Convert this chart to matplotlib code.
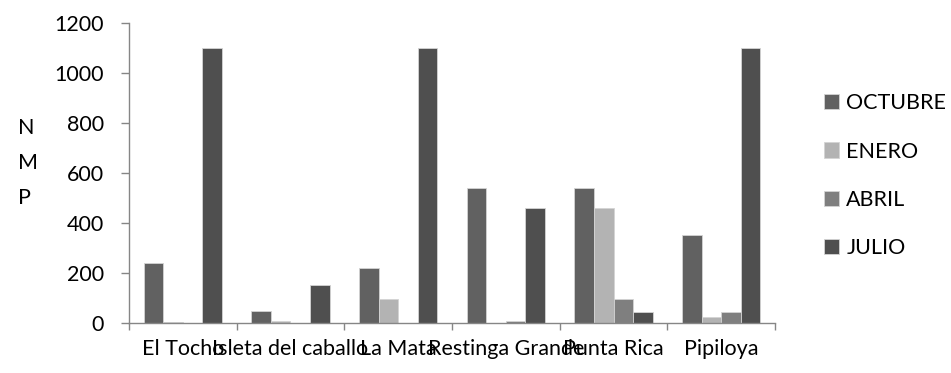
import matplotlib
matplotlib.use("Agg")
import matplotlib.pyplot as plt
import numpy as np

sitios = ["El Tocho", "Isleta del caballo", "La Mata", "Restinga Grande", "Punta Rica", "Pipiloya"]
meses = ["OCTUBRE", "ENERO", "ABRIL", "JULIO"]
octubre = [240, 45, 220, 540, 540, 350]
enero = [2, 7, 93, 0, 460, 23]
abril = [0, 0, 0, 7, 93, 43]
julio = [1100, 150, 1100, 460, 43, 1100]
colores = ["#616161", "#b3b3b3", "#7f7f7f", "#4f4f4f"]

plt.rcParams['font.family'] = ['Lato', 'DejaVu Sans']
fs = 15.5

fig = plt.figure(figsize=(9.51, 3.73), dpi=100)
ax = fig.add_axes([0.1356, 0.1349, 0.815 - 0.1356, 0.939 - 0.1349])

x = np.arange(len(sitios))
w = 1 / 5.5
series = [octubre, enero, abril, julio]
for j, (vals, nombre, c) in enumerate(zip(series, meses, colores)):
    ax.bar(x + (j - 1.5) * w, vals, width=w, color=c, label=nombre,
           edgecolor="#d4d4d4", linewidth=0.6)

ax.set_xlim(-0.5, len(sitios) - 0.5)
ax.set_ylim(0, 1200)
ax.set_yticks(range(0, 1201, 200))

# category boundaries get the tick marks, labels sit at the centres
ax.set_xticks(np.arange(-0.5, len(sitios)))
ax.set_xticklabels([])
ax.set_xticks(x, minor=True)
ax.set_xticklabels(sitios, minor=True, fontsize=fs)
ax.tick_params(axis="x", which="minor", length=0, pad=12)
ax.tick_params(axis="x", which="major", length=5, color="#868686", width=1)
ax.tick_params(axis="y", length=6, color="#868686", width=1, labelsize=fs, pad=12)

for s in ["top", "right"]:
    ax.spines[s].set_visible(False)
for s in ["left", "bottom"]:
    ax.spines[s].set_color("#868686")
    ax.spines[s].set_linewidth(1)

fig.text(18 / 951, 1 - 163 / 373, "N\nM\nP", ha="left", va="center",
         fontsize=fs, linespacing=1.93)

ax.legend(loc="center left", bbox_to_anchor=(1.062, 0.49), frameon=False,
          fontsize=fs, handlelength=0.7, handleheight=0.7, handletextpad=0.35,
          labelspacing=1.32, borderaxespad=0)

fig.savefig("out.png", dpi=100)
